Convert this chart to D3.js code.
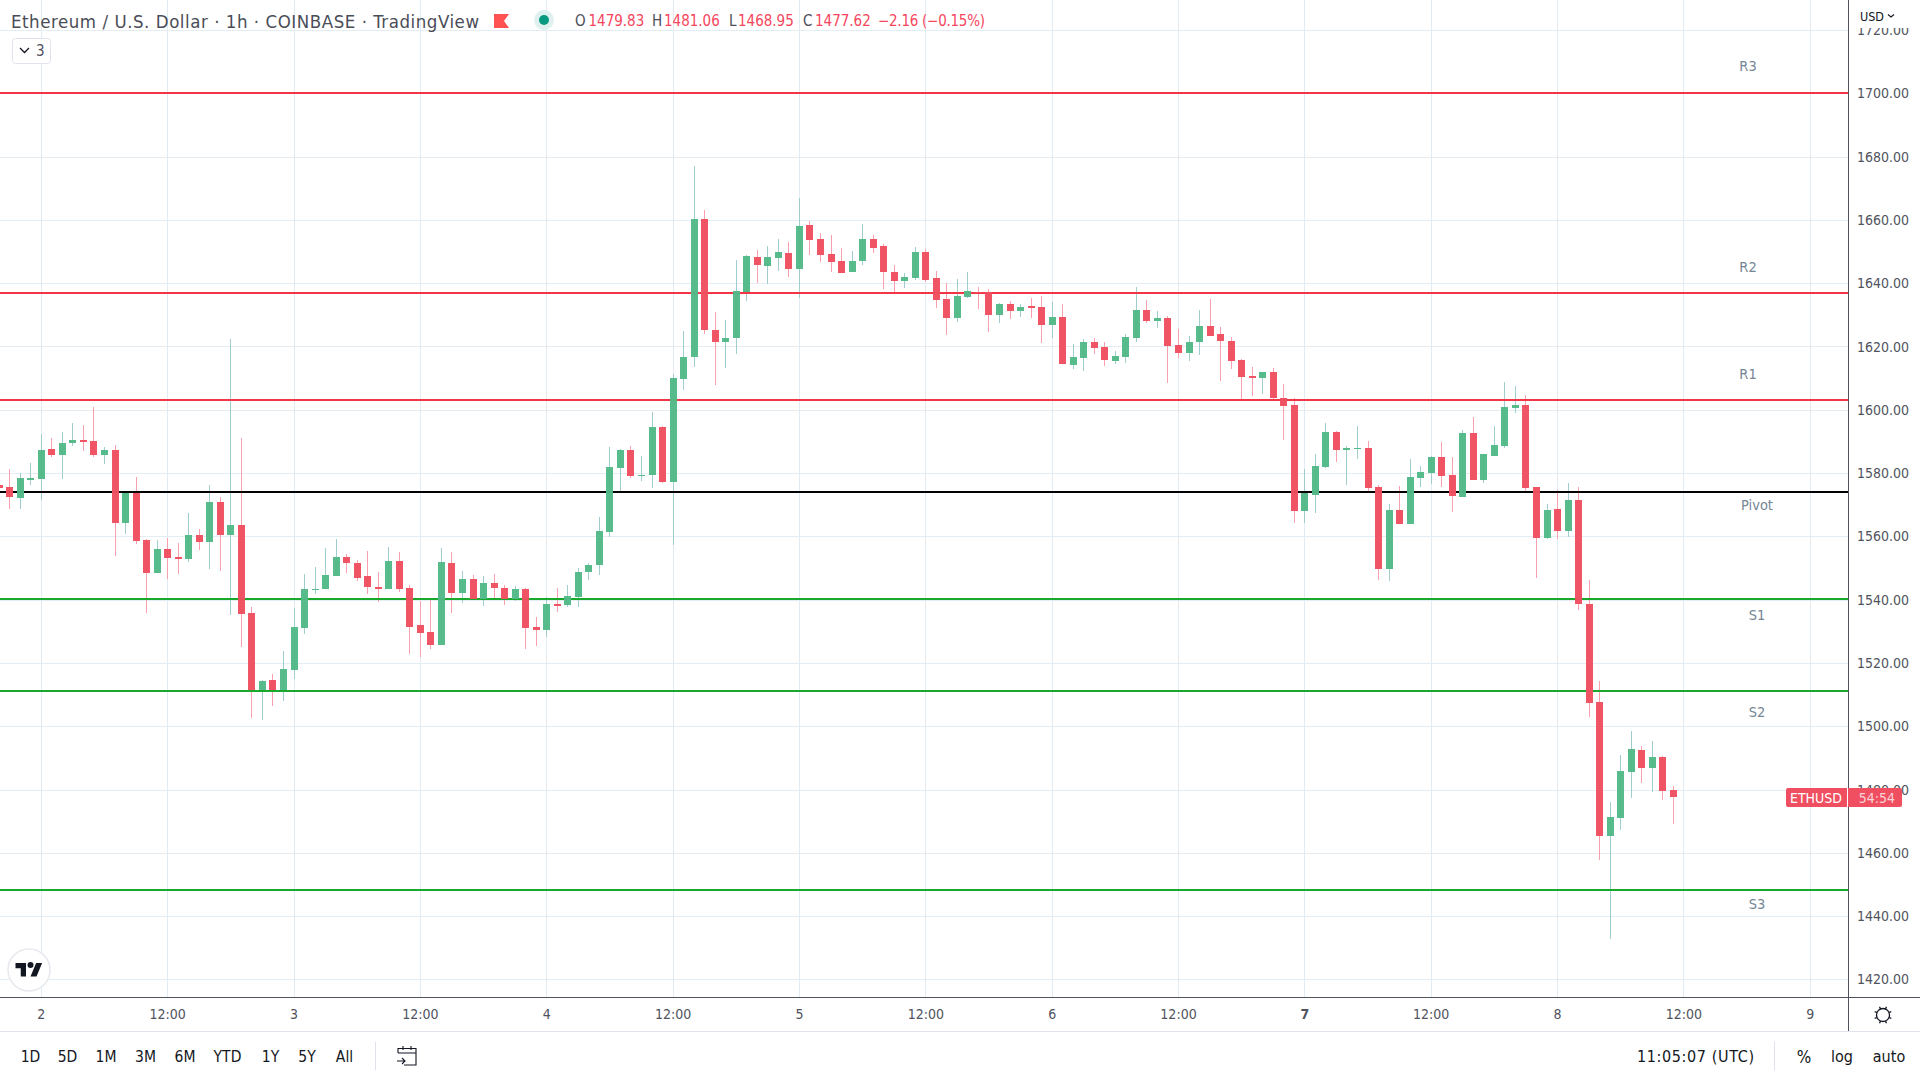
<!DOCTYPE html>
<html>
<head>
<meta charset="utf-8">
<script src="https://cdn.jsdelivr.net/npm/d3@7"></script>
<style>
  html, body { margin: 0; padding: 0; background: #fff; overflow: hidden; }
  text { font-family: "DejaVu Sans", sans-serif; font-stretch: condensed; }
</style>
</head>
<body>
<div id="chart"></div>
<script>
// hour of the first candle, counted from day 2 00:00
var firstHour = -4;

var opens = [
  1576.2, 1575.6, 1572.1, 1577.8, 1578.1, 1587.6, 1585.7, 1589.5, 1590.5, 1590.1,
  1585.7, 1587.3, 1564.2, 1573.7, 1558.9, 1548.4, 1556.0, 1553.5, 1552.9, 1560.4,
  1558.2, 1570.9, 1560.4, 1563.6, 1535.8, 1511.5, 1514.6, 1511.5, 1517.8, 1531.1,
  1543.1, 1543.4, 1547.5, 1553.5, 1551.6, 1547.5, 1544.0, 1543.4, 1552.2, 1543.7,
  1532.0, 1529.8, 1525.7, 1551.6, 1542.1, 1546.5, 1540.2, 1545.3, 1543.7, 1540.2,
  1543.4, 1531.4, 1530.4, 1538.6, 1538.3, 1540.9, 1548.8, 1551.0, 1561.4, 1581.6,
  1587.3, 1579.1, 1579.4, 1594.6, 1577.2, 1609.7, 1616.7, 1660.3, 1625.2, 1621.4,
  1622.7, 1637.2, 1648.3, 1645.4, 1648.0, 1649.5, 1644.5, 1658.4, 1654.0, 1649.2,
  1647.0, 1643.5, 1647.0, 1654.0, 1651.8, 1643.5, 1640.7, 1641.6, 1649.9, 1641.6,
  1635.0, 1629.0, 1635.6, 1637.2, 1637.2, 1630.0, 1633.4, 1631.2, 1632.8, 1632.5,
  1626.8, 1629.3, 1614.2, 1616.4, 1621.4, 1619.8, 1615.4, 1616.7, 1622.7, 1631.5,
  1628.1, 1629.0, 1620.5, 1618.0, 1621.4, 1626.5, 1624.0, 1621.7, 1615.7, 1610.7,
  1610.0, 1611.9, 1603.7, 1601.5, 1568.0, 1573.1, 1581.9, 1593.0, 1587.3, 1587.6,
  1587.9, 1575.6, 1549.7, 1568.3, 1563.9, 1578.5, 1580.0, 1585.1, 1579.4, 1572.4,
  1592.7, 1577.8, 1585.4, 1588.6, 1600.6, 1601.5, 1575.6, 1559.5, 1568.7, 1561.7,
  1571.5, 1538.6, 1507.7, 1465.3, 1471.0, 1485.6, 1492.5, 1486.8, 1490.3, 1479.83
];
var highs = [
  1576.2, 1581.3, 1580.0, 1583.2, 1592.4, 1591.1, 1593.0, 1595.8, 1595.2, 1600.9,
  1588.2, 1588.9, 1574.0, 1578.8, 1559.2, 1558.9, 1559.5, 1557.9, 1567.4, 1562.3,
  1576.2, 1572.5, 1622.4, 1591.1, 1537.7, 1514.6, 1516.5, 1523.8, 1537.4, 1548.1,
  1550.3, 1556.3, 1559.2, 1554.4, 1552.5, 1555.4, 1548.8, 1556.7, 1555.1, 1544.6,
  1539.6, 1539.9, 1556.3, 1555.1, 1549.1, 1547.8, 1547.5, 1548.1, 1544.6, 1544.3,
  1543.7, 1534.5, 1540.9, 1543.7, 1544.6, 1550.0, 1551.6, 1566.1, 1588.2, 1587.6,
  1588.6, 1585.4, 1599.3, 1594.9, 1611.3, 1624.9, 1677.0, 1663.1, 1630.9, 1628.4,
  1647.3, 1648.9, 1650.5, 1651.8, 1654.0, 1653.0, 1666.9, 1659.7, 1655.9, 1655.2,
  1651.1, 1650.2, 1658.7, 1655.2, 1652.4, 1645.8, 1643.2, 1651.4, 1650.8, 1643.9,
  1640.1, 1641.3, 1643.5, 1638.8, 1638.2, 1633.7, 1634.4, 1633.4, 1635.3, 1636.0,
  1634.1, 1633.4, 1620.8, 1622.4, 1622.7, 1621.4, 1618.6, 1624.0, 1638.8, 1634.7,
  1631.2, 1629.6, 1625.5, 1623.3, 1631.5, 1635.0, 1626.2, 1623.0, 1616.1, 1613.5,
  1611.9, 1613.2, 1608.1, 1603.7, 1581.3, 1586.0, 1595.8, 1593.3, 1588.6, 1594.9,
  1590.1, 1576.2, 1570.2, 1575.9, 1584.5, 1582.2, 1585.4, 1589.8, 1585.1, 1593.6,
  1597.7, 1586.0, 1594.9, 1608.8, 1607.5, 1604.7, 1575.6, 1570.2, 1574.7, 1576.9,
  1575.6, 1546.2, 1514.3, 1476.1, 1490.9, 1498.5, 1493.8, 1495.4, 1490.6, 1481.06
];
var lows = [
  1575.3, 1568.7, 1568.7, 1576.2, 1571.5, 1585.1, 1578.1, 1588.6, 1587.0, 1585.1,
  1582.9, 1553.8, 1560.8, 1557.6, 1535.8, 1548.4, 1546.5, 1548.1, 1551.9, 1555.7,
  1549.7, 1549.1, 1535.2, 1525.1, 1502.6, 1502.0, 1506.4, 1508.0, 1514.9, 1529.2,
  1541.8, 1543.4, 1547.5, 1548.4, 1545.9, 1541.8, 1539.3, 1543.4, 1542.4, 1522.8,
  1521.9, 1524.4, 1525.7, 1535.8, 1539.0, 1540.2, 1538.0, 1540.2, 1538.3, 1539.6,
  1524.4, 1525.4, 1528.2, 1536.1, 1537.7, 1537.7, 1546.2, 1547.8, 1559.8, 1574.2,
  1578.5, 1577.5, 1575.3, 1576.9, 1557.3, 1606.3, 1613.5, 1624.0, 1607.8, 1613.2,
  1617.6, 1634.4, 1640.1, 1639.8, 1643.9, 1642.0, 1635.3, 1648.9, 1646.7, 1643.5,
  1643.2, 1643.5, 1645.8, 1649.5, 1638.2, 1637.2, 1638.5, 1641.0, 1640.4, 1632.2,
  1623.6, 1627.7, 1635.3, 1631.9, 1624.6, 1627.4, 1628.7, 1629.3, 1629.0, 1621.1,
  1622.7, 1614.5, 1612.9, 1612.3, 1617.6, 1613.8, 1614.5, 1614.8, 1621.4, 1627.4,
  1625.9, 1608.5, 1616.4, 1615.4, 1617.3, 1623.3, 1609.1, 1612.9, 1603.1, 1604.4,
  1605.0, 1603.4, 1590.5, 1564.2, 1564.2, 1567.4, 1581.6, 1583.5, 1576.2, 1584.5,
  1574.3, 1546.2, 1545.9, 1563.9, 1563.9, 1575.6, 1576.6, 1575.6, 1567.7, 1572.4,
  1577.8, 1576.9, 1585.4, 1587.9, 1599.0, 1574.3, 1546.9, 1559.2, 1559.2, 1559.8,
  1536.8, 1502.9, 1457.8, 1432.8, 1467.2, 1477.4, 1482.1, 1479.2, 1476.7, 1468.95
];
var closes = [
  1575.3, 1572.4, 1578.4, 1578.4, 1587.3, 1585.7, 1589.5, 1590.5, 1589.8, 1585.7,
  1587.3, 1564.2, 1573.7, 1558.5, 1548.4, 1556.0, 1553.2, 1552.9, 1560.4, 1558.2,
  1570.9, 1560.4, 1563.6, 1535.5, 1511.5, 1514.3, 1511.5, 1518.1, 1531.4, 1543.4,
  1543.4, 1547.8, 1553.5, 1551.6, 1546.9, 1544.0, 1543.4, 1552.2, 1543.4, 1531.4,
  1529.5, 1525.7, 1551.9, 1542.1, 1546.5, 1540.2, 1545.3, 1543.7, 1540.2, 1543.4,
  1531.1, 1530.4, 1538.6, 1538.0, 1541.2, 1548.8, 1551.0, 1561.7, 1581.9, 1587.3,
  1579.1, 1579.4, 1594.6, 1577.2, 1610.1, 1616.7, 1660.3, 1625.2, 1621.4, 1622.7,
  1637.5, 1648.6, 1645.8, 1648.3, 1649.9, 1644.5, 1658.1, 1653.7, 1648.9, 1646.7,
  1643.2, 1647.0, 1654.0, 1651.1, 1643.5, 1640.7, 1642.0, 1649.9, 1641.0, 1634.7,
  1629.0, 1636.0, 1637.5, 1636.9, 1630.0, 1633.4, 1631.2, 1632.5, 1632.2, 1626.8,
  1629.3, 1614.5, 1616.7, 1621.4, 1619.5, 1615.7, 1617.0, 1623.0, 1631.5, 1628.1,
  1629.0, 1620.2, 1618.0, 1621.4, 1626.5, 1623.3, 1621.7, 1615.4, 1610.4, 1610.0,
  1611.9, 1603.7, 1601.2, 1568.0, 1573.7, 1582.2, 1593.0, 1587.3, 1587.9, 1587.9,
  1575.3, 1549.7, 1568.3, 1563.9, 1578.8, 1580.3, 1585.1, 1579.1, 1572.8, 1592.7,
  1577.8, 1586.0, 1588.9, 1600.9, 1601.5, 1575.3, 1559.5, 1568.3, 1561.7, 1571.5,
  1538.6, 1507.4, 1465.3, 1471.3, 1485.9, 1492.8, 1486.8, 1490.3, 1479.6, 1477.62
];

// pivot levels and where their labels sit
var levelNames = ["R3", "R2", "R1", "Pivot", "S1", "S2", "S3"];
var levelPrices = [1700, 1636.9, 1603.1, 1574, 1540.2, 1511.15, 1448.3];
var labelPrices = [1708.6, 1645.2, 1611.2, 1569.9, 1535.2, 1504.5, 1443.8];

var priceTicks = [1420, 1440, 1460, 1480, 1500, 1520, 1540, 1560, 1580, 1600, 1620, 1640, 1660, 1680, 1700, 1720];
var timeTickHours = [0, 12, 24, 36, 48, 60, 72, 84, 96, 108, 120, 132, 144, 156, 168];
var timeTickLabels = ["2", "12:00", "3", "12:00", "4", "12:00", "5", "12:00", "6", "12:00", "7", "12:00", "8", "12:00", "9"];
var rangeButtons = ["1D", "5D", "1M", "3M", "6M", "YTD", "1Y", "5Y", "All"];

var width = 1920, height = 1080;
var plotRight = 1848, plotBottom = 997, footerTop = 1031;

var svg = d3.select("#chart").append("svg")
    .attr("width", width)
    .attr("height", height)
    .style("display", "block");

var x = d3.scaleLinear().domain([0, 168]).range([41.3, 1810.3]);
var y = d3.scaleLinear().domain([1420, 1700]).range([979.4, 93.3]);
var levelColor = function (i) { return i < 3 ? "#f23645" : i == 3 ? "#000000" : "#1aa82c"; };

svg.append("clipPath").attr("id", "plot-clip").append("rect")
    .attr("width", plotRight).attr("height", plotBottom);
svg.append("clipPath").attr("id", "axis-clip").append("rect")
    .attr("x", plotRight).attr("y", 28).attr("width", width - plotRight).attr("height", plotBottom - 28);

var plot = svg.append("g").attr("clip-path", "url(#plot-clip)");

// grid
plot.selectAll(".hgrid").data(priceTicks).enter().append("rect")
    .attr("x", 0).attr("width", plotRight).attr("height", 1)
    .attr("y", function (d) { return Math.round(y(d)); })
    .attr("fill", "#e4edf3");
plot.selectAll(".vgrid").data(timeTickHours).enter().append("rect")
    .attr("y", 0).attr("width", 1).attr("height", plotBottom)
    .attr("x", function (d) { return Math.floor(x(d)); })
    .attr("fill", "#e1ebf1");

// candles
var candles = opens.map(function (o, i) {
    return { hour: firstHour + i, open: o, high: highs[i], low: lows[i], close: closes[i] };
});
var isUp = function (d) { return d.close >= d.open; };

plot.selectAll(".wick").data(candles).enter().append("rect")
    .attr("x", function (d) { return Math.floor(x(d.hour)); })
    .attr("width", 1)
    .attr("y", function (d) { return Math.round(y(d.high)); })
    .attr("height", function (d) { return Math.max(1, Math.round(y(d.low)) - Math.round(y(d.high))); })
    .attr("fill", function (d) { return isUp(d) ? "#a0cdcd" : "#f8a0ae"; });

// pivot lines go under the bodies
plot.selectAll(".level").data(levelPrices).enter().append("rect")
    .attr("x", 0).attr("width", plotRight).attr("height", 2)
    .attr("y", function (d) { return Math.round(y(d)) - 1; })
    .attr("fill", function (d, i) { return levelColor(i); });

plot.selectAll(".body").data(candles).enter().append("rect")
    .attr("x", function (d) { return Math.floor(x(d.hour)) - 3; })
    .attr("width", 7)
    .attr("y", function (d) { return Math.round(y(Math.max(d.open, d.close))); })
    .attr("height", function (d) { return Math.max(1, Math.round(y(Math.min(d.open, d.close))) - Math.round(y(Math.max(d.open, d.close)))); })
    .attr("fill", function (d) { return isUp(d) ? "#53b987" : "#ef4f60"; })
    .attr("fill-opacity", 0.97);

plot.selectAll(".level-label").data(levelNames).enter().append("text")
    .attr("x", function (d, i) { return i < 3 ? 1748 : 1757; })
    .attr("y", function (d, i) { return y(labelPrices[i]); })
    .attr("dy", "0.35em")
    .attr("text-anchor", "middle")
    .attr("font-size", 14.5)
    .attr("fill", "#758696")
    .text(function (d) { return d; });

// price axis
svg.append("g").attr("clip-path", "url(#axis-clip)")
    .selectAll("text").data(priceTicks).enter().append("text")
    .attr("x", 1909)
    .attr("y", function (d) { return y(d); })
    .attr("dy", "0.36em")
    .attr("text-anchor", "end")
    .attr("font-size", 14)
    .attr("fill", "#50535e")
    .text(function (d) { return d3.format(".2f")(d); });

svg.append("rect").attr("x", plotRight).attr("y", 0).attr("width", 1).attr("height", footerTop).attr("fill", "#50535e");
svg.append("rect").attr("x", 0).attr("y", plotBottom).attr("width", width).attr("height", 1).attr("fill", "#50535e");
svg.append("rect").attr("x", 0).attr("y", footerTop).attr("width", width).attr("height", 1).attr("fill", "#e0e3eb");

// time axis
svg.append("g").selectAll("text").data(timeTickHours).enter().append("text")
    .attr("x", function (d) { return x(d); })
    .attr("y", 1014)
    .attr("dy", "0.36em")
    .attr("text-anchor", "middle")
    .attr("font-size", 14)
    .attr("font-weight", function (d, i) { return timeTickLabels[i] == "7" ? "bold" : "normal"; })
    .attr("fill", "#50535e")
    .text(function (d, i) { return timeTickLabels[i]; });

// gear under the price axis
var gear = svg.append("g").attr("transform", "translate(1883,1015)")
    .attr("fill", "none").attr("stroke", "#131722").attr("stroke-width", 1.3);
gear.append("circle").attr("r", 6.5);
d3.range(8).forEach(function (i) {
    var a = i * Math.PI / 4 + Math.PI / 8;
    gear.append("line")
        .attr("x1", 6.5 * Math.cos(a)).attr("y1", 6.5 * Math.sin(a))
        .attr("x2", 9 * Math.cos(a)).attr("y2", 9 * Math.sin(a));
});

// header
svg.append("text").attr("x", 11).attr("y", 21).attr("dy", "0.36em")
    .attr("font-size", 18.5).attr("fill", "#4a4d57")
    .attr("textLength", 468).attr("lengthAdjust", "spacing")
    .text("Ethereum / U.S. Dollar · 1h · COINBASE · TradingView");

svg.append("path")
    .attr("d", "M494 14H509L504 21L509 28H494Z")
    .attr("fill", "#ff5252");
svg.append("circle").attr("cx", 544).attr("cy", 20).attr("r", 10).attr("fill", "#dff1ee");
svg.append("circle").attr("cx", 544).attr("cy", 20).attr("r", 5).attr("fill", "#089981");

var ohlcLabels = ["O", "H", "L", "C"];
var ohlcLabelX = [575, 652, 729, 803];
var ohlcText = ["1479.83", "1481.06", "1468.95", "1477.62"];
var ohlcTextX = [588.5, 664, 738, 815];
svg.selectAll(".ohlc-l").data(ohlcLabels).enter().append("text")
    .attr("x", function (d, i) { return ohlcLabelX[i]; })
    .attr("y", 21).attr("dy", "0.36em").attr("font-size", 15).attr("fill", "#4a4d57")
    .text(function (d) { return d; });
svg.selectAll(".ohlc-v").data(ohlcText).enter().append("text")
    .attr("x", function (d, i) { return ohlcTextX[i]; })
    .attr("y", 21).attr("dy", "0.36em").attr("font-size", 15).attr("fill", "#f6465d")
    .text(function (d) { return d; });
svg.append("text").attr("x", 878).attr("y", 21).attr("dy", "0.36em")
    .attr("font-size", 15).attr("fill", "#f6465d")
    .attr("textLength", 107).attr("lengthAdjust", "spacing")
    .text("−2.16 (−0.15%)");

// collapsed studies button
svg.append("rect").attr("x", 12.5).attr("y", 38.5).attr("width", 38).attr("height", 25).attr("rx", 3)
    .attr("fill", "#fff").attr("stroke", "#e0e3eb");
svg.append("path").attr("d", "M20 48L24.5 52.5L29 48").attr("fill", "none").attr("stroke", "#131722").attr("stroke-width", 1.3);
svg.append("text").attr("x", 36).attr("y", 51).attr("dy", "0.36em").attr("font-size", 15).attr("fill", "#50535e").text("3");

// currency box
svg.append("text").attr("x", 1860).attr("y", 16).attr("dy", "0.36em").attr("font-size", 12.5).attr("fill", "#131722").text("USD");
svg.append("path").attr("d", "M1888 14.5L1891 17L1894 14.5").attr("fill", "none").attr("stroke", "#131722").attr("stroke-width", 1.1);

// price tag
svg.append("rect").attr("x", 1786).attr("y", 788).attr("width", 116).attr("height", 19).attr("rx", 2).attr("fill", "#ef4f60");
svg.append("rect").attr("x", 1847).attr("y", 788).attr("width", 1).attr("height", 19).attr("fill", "#ffffff");
svg.append("text").attr("x", 1816).attr("y", 797.5).attr("dy", "0.36em").attr("text-anchor", "middle")
    .attr("font-size", 14).attr("fill", "#ffffff").text("ETHUSD");
svg.append("text").attr("x", 1877).attr("y", 797.5).attr("dy", "0.36em").attr("text-anchor", "middle")
    .attr("font-size", 14).attr("fill", "#ffffff").attr("fill-opacity", 0.75).text("54:54");

// logo
var logo = svg.append("g").attr("transform", "translate(29,970)");
logo.append("circle").attr("r", 21).attr("fill", "#fff").attr("stroke", "#e8e9ee").attr("stroke-width", 1.5);
logo.append("path").attr("transform", "translate(-13.5,-10) scale(0.75)")
    .attr("d", "M14 22H7V11H0V4h14v18zM28 22h-8l7.5-18h8L28 22z").attr("fill", "#131722");
logo.append("circle").attr("cx", 1.5).attr("cy", -5).attr("r", 3).attr("fill", "#131722");

// footer
var buttonX = [30.5, 67.5, 106, 145.5, 185, 227.5, 270.5, 307, 344.5];
svg.selectAll(".range").data(rangeButtons).enter().append("text")
    .attr("x", function (d, i) { return buttonX[i]; })
    .attr("y", 1056.5).attr("dy", "0.36em")
    .attr("text-anchor", "middle")
    .attr("font-size", 15.5)
    .attr("fill", "#131722")
    .text(function (d) { return d; });
svg.append("rect").attr("x", 375).attr("y", 1042).attr("width", 1).attr("height", 28).attr("fill", "#e0e3eb");
svg.append("path")
    .attr("d", "M398 1053V1048.5H416V1065H404M398 1053H416M403 1046V1050M411 1046V1050M397 1061H405M402 1058L405 1061L402 1064")
    .attr("fill", "none").attr("stroke", "#131722").attr("stroke-width", 1.1);

svg.append("text").attr("x", 1637).attr("y", 1056.5).attr("dy", "0.36em").attr("font-size", 16).attr("fill", "#131722")
    .attr("textLength", 117).attr("lengthAdjust", "spacing").text("11:05:07 (UTC)");
svg.append("rect").attr("x", 1774).attr("y", 1042).attr("width", 1).attr("height", 28).attr("fill", "#e0e3eb");
svg.append("text").attr("x", 1804).attr("y", 1056.5).attr("dy", "0.36em").attr("text-anchor", "middle").attr("font-size", 17).attr("fill", "#131722").text("%");
svg.append("text").attr("x", 1842).attr("y", 1056.5).attr("dy", "0.36em").attr("text-anchor", "middle").attr("font-size", 16).attr("fill", "#131722").text("log");
svg.append("text").attr("x", 1889).attr("y", 1056.5).attr("dy", "0.36em").attr("text-anchor", "middle").attr("font-size", 16).attr("fill", "#131722").text("auto");
</script>
</body>
</html>
